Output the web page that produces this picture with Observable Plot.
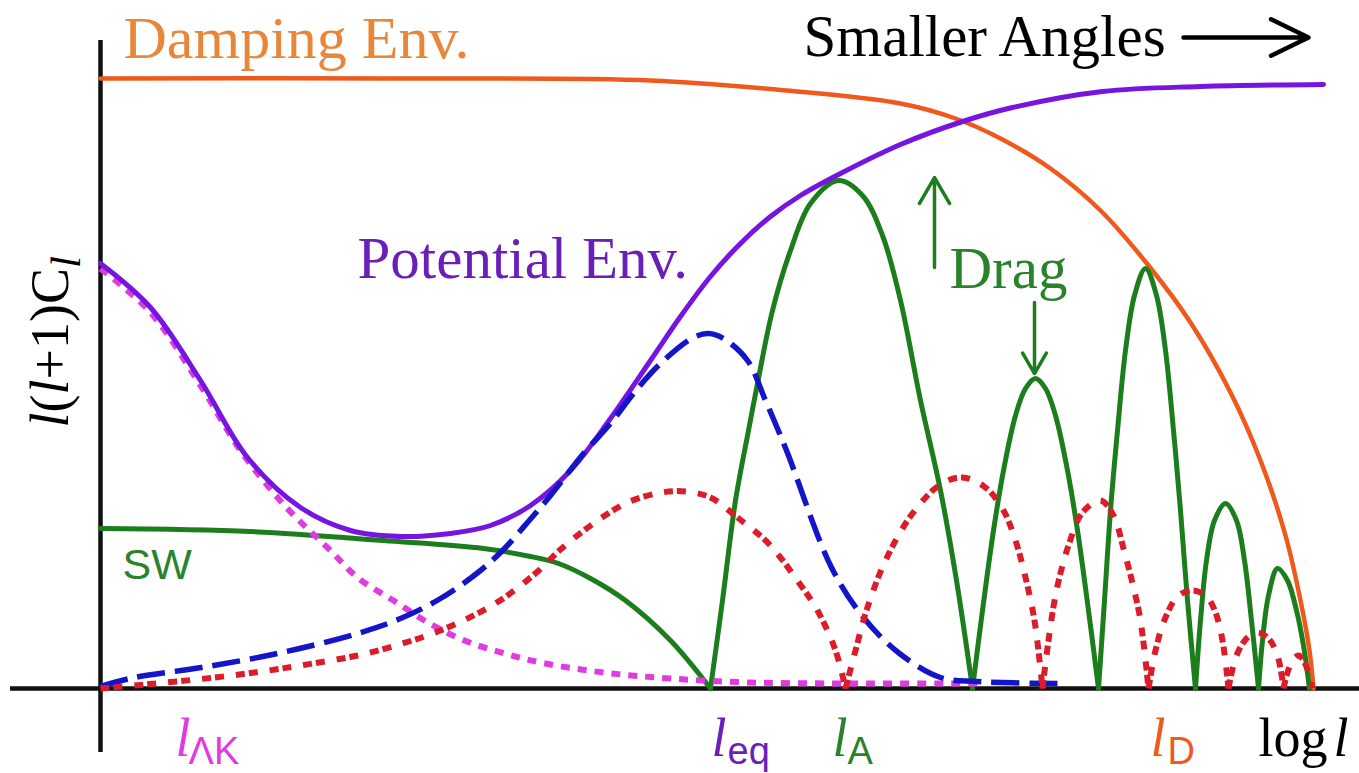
<!DOCTYPE html>
<html>
<head>
<meta charset="utf-8">
<script src="https://cdn.jsdelivr.net/npm/d3@7"></script>
<script src="https://cdn.jsdelivr.net/npm/@observablehq/plot@0.6"></script>
<style>
  html, body { margin: 0; padding: 0; background: #fff; }
  #chart svg { display: block; }
</style>
</head>
<body>
<div id="chart"></div>
<script>
// Schematic CMB temperature power spectrum l(l+1)C_l against log l.
// Horizontal unit: log l (arbitrary), vertical unit: power (arbitrary).

// Damping envelope (orange)
const dampingEnv = [[0,6.10],[3.00,6.10],[5.50,6.08],[6.86,5.98],[8.00,5.85],[8.55,5.70],[9.00,5.50],[9.50,5.20],[10.00,4.78],[10.48,4.23],[10.90,3.66],[11.30,2.96],[11.60,2.28],[11.85,1.53],[12.00,0.88],[12.09,0.38],[12.13,0]];

// Potential envelope (purple)
const potentialEnv = [[0,4.25],[0.50,3.81],[1.00,3.08],[1.47,2.31],[2.00,1.81],[2.50,1.58],[3.00,1.52],[3.50,1.55],[3.90,1.63],[4.30,1.83],[4.70,2.18],[5.10,2.70],[5.50,3.28],[5.80,3.72],[6.10,4.12],[6.40,4.45],[6.70,4.72],[7.00,4.93],[7.40,5.15],[8.00,5.44],[8.62,5.67],[9.12,5.81],[10.02,5.97],[11.00,6.02],[12.23,6.04]];

// Late ISW contribution (magenta, dotted)
const isw = [[0,4.20],[0.50,3.76],[1.00,3.03],[1.40,2.38],[1.86,1.81],[2.30,1.38],[2.57,1.11],[2.93,0.88],[3.29,0.65],[3.64,0.48],[4.04,0.35],[4.45,0.25],[5.03,0.16],[5.70,0.10],[6.50,0.06],[7.50,0.05],[8.80,0.05]];

// Early ISW / radiation driving (blue, dashed)
const earlyIsw = [[0,0.02],[0.34,0.11],[1.01,0.21],[1.77,0.35],[2.57,0.55],[3.00,0.70],[3.40,0.90],[3.80,1.18],[4.04,1.40],[4.27,1.66],[4.50,1.93],[4.83,2.35],[5.10,2.65],[5.33,2.95],[5.60,3.25],[5.93,3.51],[6.08,3.55],[6.23,3.50],[6.47,3.28],[6.65,2.88],[6.86,2.38],[7.31,1.21],[7.63,0.71],[7.99,0.35],[8.40,0.11],[8.76,0.07],[9.57,0.05]];

// Doppler term (red, dotted), one list per arch
const doppler = [
  [[0,0],[0.34,0.03],[1.14,0.11],[1.68,0.18],[2.12,0.25],[2.57,0.33],[3.02,0.45],[3.40,0.58],[3.75,0.74],[4.04,0.91],[4.36,1.16],[4.60,1.39],[4.93,1.65],[5.27,1.86],[5.61,1.96],[5.85,1.97],[6.10,1.91],[6.37,1.71],[6.68,1.45],[6.99,1.05],[7.17,0.78],[7.35,0.38],[7.45,0]],
  [[7.45,0],[7.55,0.38],[7.66,0.78],[7.85,1.28],[8.12,1.75],[8.40,2.04],[8.62,2.11],[8.85,2.01],[9.03,1.78],[9.15,1.48],[9.25,1.11],[9.34,0.68],[9.42,0]],
  [[9.42,0],[9.48,0.48],[9.56,0.98],[9.68,1.43],[9.82,1.76],[10.00,1.88],[10.13,1.73],[10.23,1.40],[10.33,1.01],[10.40,0.68],[10.48,0]],
  [[10.48,0],[10.55,0.38],[10.65,0.71],[10.78,0.93],[10.93,0.98],[11.06,0.92],[11.15,0.76],[11.22,0.48],[11.28,0]],
  [[11.28,0],[11.36,0.33],[11.47,0.51],[11.57,0.56],[11.68,0.50],[11.77,0.33],[11.83,0]],
  [[11.83,0],[11.90,0.24],[11.98,0.33],[12.05,0.24],[12.12,0]]
];

// Sachs-Wolfe plateau followed by the acoustic peaks (green)
const acoustic = [
  [[0,1.60],[1.50,1.57],[2.83,1.48],[3.83,1.40],[4.30,1.32],[4.58,1.25],[4.90,1.10],[5.25,0.88],[5.70,0.48],[6.10,0]],
  [[6.10,0],[6.22,0.88],[6.35,1.88],[6.48,2.58],[6.57,3.05],[6.72,3.78],[6.90,4.38],[7.10,4.85],[7.38,5.08],[7.62,4.93],[7.82,4.53],[8.00,3.88],[8.20,2.88],[8.40,1.98],[8.56,1.08],[8.72,0]],
  [[8.72,0],[8.82,0.78],[8.93,1.58],[9.03,2.18],[9.15,2.73],[9.25,3.00],[9.35,3.10],[9.45,3.00],[9.55,2.73],[9.67,2.18],[9.77,1.58],[9.88,0.78],[9.98,0]],
  [[9.98,0],[10.04,0.88],[10.10,1.78],[10.17,2.58],[10.25,3.38],[10.34,3.93],[10.45,4.20],[10.56,3.93],[10.65,3.38],[10.73,2.58],[10.80,1.78],[10.87,0.88],[10.95,0]],
  [[10.95,0],[11.00,0.68],[11.06,1.28],[11.14,1.68],[11.25,1.85],[11.36,1.68],[11.44,1.28],[11.51,0.68],[11.58,0]],
  [[11.58,0],[11.62,0.48],[11.68,0.93],[11.77,1.20],[11.87,1.08],[11.96,0.78],[12.03,0.43],[12.09,0]]
];

// Characteristic multipoles along the log l axis
const scaleNames = ["ΛK", "eq", "A", "D"];
const scaleAt = [0.75, 6.11, 7.32, 10.50];

const C = {
  orange: "#ef5a1c", orangeText: "#e8873a",
  purple: "#7614e0", purpleText: "#6a1fb8",
  green: "#1b7d1b", greenText: "#2a832a",
  blue: "#1414c8", red: "#dd1c2a", magenta: "#e03ae0"
};
const serif = "Liberation Serif, Times New Roman, serif";
const sans = "Liberation Sans, Arial, sans-serif";

const pts = arr => arr.map(([x, y]) => ({x, y}));
const segs = (list, name) => list.flatMap((p, i) => p.map(([x, y]) => ({x, y, seg: name + i})));

const lineOpts = (stroke, extra = {}) => ({x: "x", y: "y", stroke, strokeWidth: 5, curve: "catmull-rom", ...extra});

const txt = (rows, opts) => Plot.text(rows, {x: "x", y: "y", text: "t", lineAnchor: "bottom", textAnchor: "start", ...opts});

const subColors = [C.magenta, C.purpleText, C.greenText, C.orange];
const subOffset = [0.13, 0.16, 0.15, 0.17];

const svg = Plot.plot({
  width: 1359,
  height: 773,
  marginLeft: 100,
  marginRight: 39,
  marginTop: 78,
  marginBottom: 85,
  x: {domain: [0, 12.2], axis: null},
  y: {domain: [0, 6.1], axis: null},
  style: {background: "#fff", overflow: "visible"},
  marks: [
    // axes
    Plot.ruleX([0], {y1: -0.64, y2: 6.48, stroke: "#111", strokeWidth: 4.5}),
    Plot.ruleY([0], {x1: -0.90, x2: 12.59, stroke: "#111", strokeWidth: 4.5}),

    Plot.line(pts(dampingEnv), lineOpts(C.orange, {strokeWidth: 4.5})),
    Plot.line(segs(acoustic, "a"), lineOpts(C.green, {z: "seg"})),
    Plot.line(pts(isw), lineOpts(C.magenta, {strokeWidth: 6, strokeDasharray: "9,8", strokeLinecap: "butt"})),
    Plot.line(pts(potentialEnv), lineOpts(C.purple)),
    Plot.line(pts(earlyIsw), lineOpts(C.blue, {strokeWidth: 5.5, strokeDasharray: "28,10", strokeLinecap: "butt"})),
    Plot.line(segs(doppler, "d"), lineOpts(C.red, {z: "seg", strokeWidth: 6, strokeDasharray: "9,4,9,12", strokeLinecap: "butt"})),

    // arrows
    Plot.arrow([{x1: 10.83, x2: 12.08, y: 6.51}], {x1: "x1", x2: "x2", y1: "y", y2: "y", stroke: "#000", strokeWidth: 4.5, headLength: 44, headAngle: 52}),
    Plot.arrow([{x: 8.34, y1: 4.21, y2: 5.11}], {x1: "x", x2: "x", y1: "y1", y2: "y2", stroke: C.green, strokeWidth: 3.5, headLength: 30, headAngle: 60}),
    Plot.arrow([{x: 9.34, y1: 3.86, y2: 3.15}], {x1: "x", x2: "x", y1: "y1", y2: "y2", stroke: C.green, strokeWidth: 3.5, headLength: 28, headAngle: 60}),

    // curve labels
    txt([{x: 0.23, y: 6.31, t: "Damping Env."}], {fill: C.orangeText, fontFamily: serif, fontSize: 60}),
    txt([{x: 7.03, y: 6.33, t: "Smaller Angles"}], {fill: "#000", fontFamily: serif, fontSize: 59}),
    txt([{x: 2.57, y: 4.11, t: "Potential Env."}], {fill: C.purpleText, fontFamily: serif, fontSize: 59}),
    txt([{x: 8.49, y: 4.01, t: "Drag"}], {fill: C.greenText, fontFamily: serif, fontSize: 59}),
    txt([{x: 0.22, y: 1.10, t: "SW"}], {fill: C.greenText, fontFamily: sans, fontSize: 43}),

    // y-axis label (italic parts set below)
    txt([{x: -0.33, y: 2.61, t: "l(l+1)Cl"}], {fill: "#000", fontFamily: serif, fontSize: 54, rotate: -90}),

    // multipole scale labels: italic l with subscript
    Plot.text(scaleAt, {x: d => d, y: -0.67, text: () => "l", fill: (d, i) => subColors[i], lineAnchor: "bottom", textAnchor: "start", fontFamily: serif, fontStyle: "italic", fontSize: 54}),
    Plot.text(scaleNames, {x: (d, i) => scaleAt[i] + subOffset[i], y: -0.75, text: d => d, fill: (d, i) => subColors[i], lineAnchor: "bottom", textAnchor: "start", fontFamily: sans, fontSize: 38}),
    txt([{x: 11.58, y: -0.67, t: "log"}], {fill: "#000", fontFamily: serif, fontSize: 54}),
    txt([{x: 12.33, y: -0.67, t: "l"}], {fill: "#000", fontFamily: serif, fontStyle: "italic", fontSize: 54})
  ]
});

// l(l+1)C_l with italic l's and a subscript
d3.select(svg).selectAll("text")
  .filter(function () { return this.textContent === "l(l+1)Cl"; })
  .each(function () {
    const t = d3.select(this);
    t.text(null);
    t.append("tspan").attr("font-style", "italic").text("l");
    t.append("tspan").text("(");
    t.append("tspan").attr("font-style", "italic").text("l");
    t.append("tspan").text("+1)C");
    t.append("tspan").attr("font-style", "italic").attr("font-size", "0.8em").attr("dy", "0.3em").text("l");
  });

document.getElementById("chart").append(svg);
</script>
</body>
</html>
